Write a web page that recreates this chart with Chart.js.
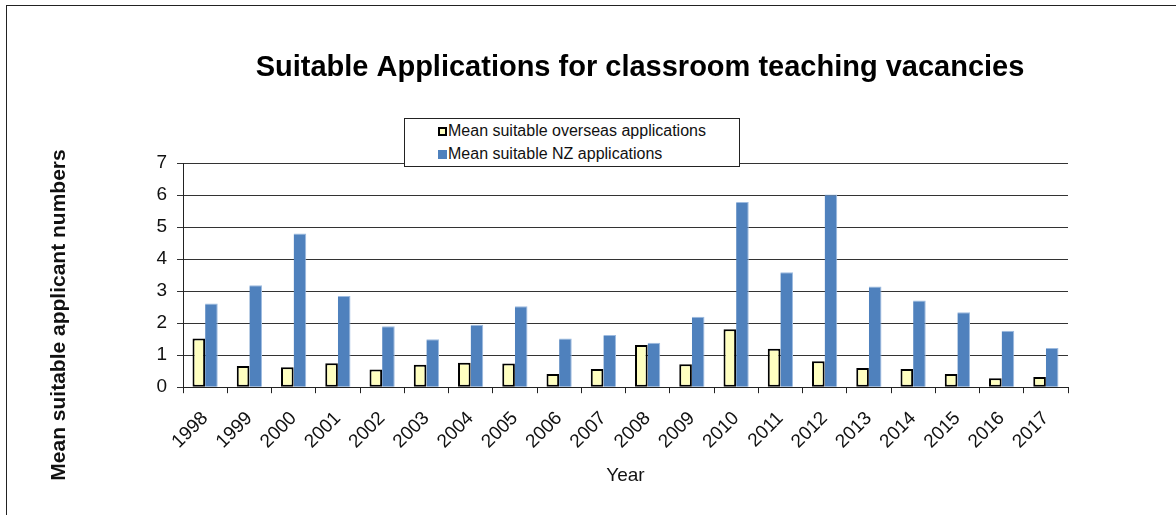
<!DOCTYPE html>
<html>
<head>
<meta charset="utf-8">
<script src="https://cdn.jsdelivr.net/npm/chart.js@4/dist/chart.umd.min.js"></script>
<style>
  html, body { margin: 0; padding: 0; background: #fff; overflow: hidden; }
  #wrap { position: relative; width: 1176px; height: 515px; }
  #frame { position: absolute; left: 6px; top: 5px; width: 1300px; height: 700px; border: 1px solid #222; box-sizing: border-box; pointer-events: none; }
  #legend { position: absolute; left: 404px; top: 118px; width: 336px; height: 49px; background: #fff; border: 1px solid #222;
            font-family: "Liberation Sans", Arial, sans-serif; font-size: 16px; color: #111; box-sizing: border-box; }
  #legend div { position: absolute; left: 33px; white-space: nowrap; }
  #legend span { display: inline-block; width: 9px; height: 9px; margin-right: 1px; vertical-align: 0px; box-sizing: border-box; }
</style>
</head>
<body>
<div id="wrap">
  <canvas id="grafica" width="1176" height="515"></canvas>
  <div id="frame"></div>
  <div id="legend"></div>
</div>
<script>
var anios = ['1998','1999','2000','2001','2002','2003','2004','2005','2006','2007',
             '2008','2009','2010','2011','2012','2013','2014','2015','2016','2017'];
var extranjeros = [1.52, 0.66, 0.62, 0.75, 0.55, 0.70, 0.76, 0.74, 0.41, 0.57,
                   1.32, 0.72, 1.81, 1.20, 0.81, 0.60, 0.57, 0.41, 0.28, 0.32];
var nz = [2.61, 3.18, 4.80, 2.85, 1.90, 1.50, 1.95, 2.53, 1.52, 1.63,
          1.39, 2.20, 5.78, 3.59, 6.02, 3.14, 2.71, 2.34, 1.76, 1.22];
var etiquetaExt = 'Mean suitable overseas applications';
var etiquetaNz = 'Mean suitable NZ applications';
var titulo = 'Suitable Applications for classroom teaching vacancies';
var tituloEjeY = 'Mean suitable applicant numbers';

var fuente = '"Liberation Sans", Arial, sans-serif';

// chart title and y axis title, placed where the original has them
var textos = {
	id: 'textos',
	afterDraw: function(chart) {
		var ctx = chart.ctx;
		ctx.save();
		ctx.fillStyle = '#000';
		ctx.textAlign = 'center';
		ctx.textBaseline = 'middle';
		ctx.font = 'bold 29px ' + fuente;
		ctx.fillText(titulo, 640, 68);
		ctx.translate(59, 315);
		ctx.rotate(-Math.PI / 2);
		ctx.font = 'bold 21px ' + fuente;
		ctx.fillStyle = '#111';
		ctx.fillText(tituloEjeY, 0, 0);
		ctx.restore();
	}
};

var ctx = document.getElementById('grafica').getContext('2d');
var chart = new Chart(ctx, {
	type: 'bar',
	data: {
		labels: anios,
		datasets: [{
			label: etiquetaExt,
			data: extranjeros,
			backgroundColor: '#FFFFC0',
			borderColor: '#000',
			borderWidth: 2,
			borderSkipped: false
		}, {
			label: etiquetaNz,
			data: nz,
			backgroundColor: '#4F81BD',
			borderColor: '#9DBBE0',
			borderWidth: {top: 1, right: 1, left: 0, bottom: 0},
			borderSkipped: false
		}]
	},
	options: {
		responsive: false,
		animation: false,
		datasets: { bar: { categoryPercentage: 0.57, barPercentage: 1.0 } },
		layout: { padding: { left: 151, right: 108, top: 163, bottom: 28 } },
		plugins: {
			legend: { display: false },
			tooltip: { enabled: false },
			title: { display: false }
		},
		scales: {
			x: {
				grid: { display: true, drawOnChartArea: false, color: '#222', tickLength: 6, offset: true },
				border: { color: '#222', width: 1 },
				ticks: { color: '#111', font: { family: fuente, size: 19 }, minRotation: 45, maxRotation: 45, padding: 14 },
				title: { display: true, text: 'Year', color: '#111', font: { family: fuente, size: 19 }, padding: { top: -3, bottom: 0 } }
			},
			y: {
				min: 0,
				max: 7,
				afterFit: function(escala) { escala.width = 32; },
				grid: { color: '#333', tickLength: 6 },
				border: { color: '#222', width: 1 },
				ticks: { stepSize: 1, color: '#111', font: { family: fuente, size: 19 }, padding: 10 }
			}
		}
	},
	plugins: [textos]
});

// legend as html box laid over the top of the plot
var leyenda = document.getElementById('legend');
leyenda.innerHTML =
	'<div style="top:3px"><span style="background:#FFFFC0;border:2px solid #000"></span>' + etiquetaExt + '</div>' +
	'<div style="top:26px"><span style="background:#4F81BD"></span>' + etiquetaNz + '</div>';
</script>
</body>
</html>
